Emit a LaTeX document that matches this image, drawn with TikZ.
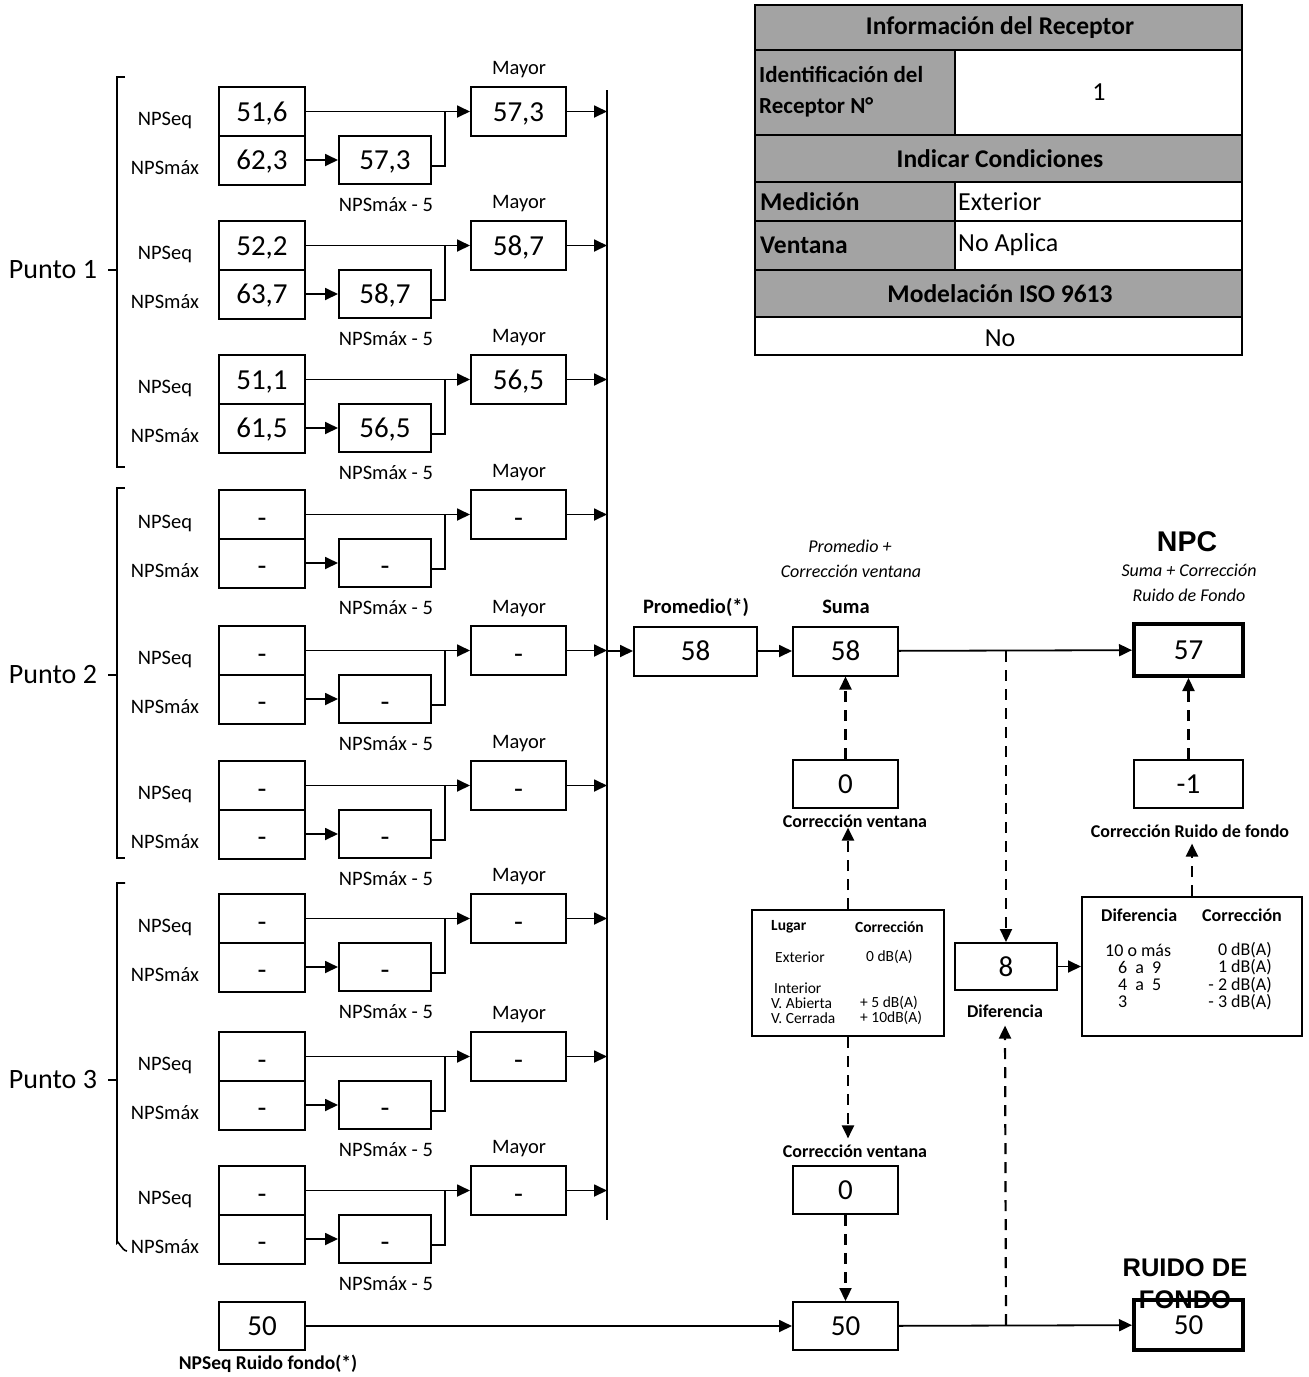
\documentclass[tikz,border=0pt]{standalone}
\usepackage{fontspec}
\setmainfont{Carlito}
\newfontfamily\arialf{Liberation Sans}
\usetikzlibrary{arrows.meta,calc}
\newcommand\myfs[1]{\fontsize{#1}{#1}\selectfont}
\newcommand\mydash{\raisebox{-3pt}{-}}
\begin{document}
\begin{tikzpicture}[x=1pt,y=-1pt,
 box/.style={draw,line width=2pt,inner sep=0pt,minimum width=86pt,minimum height=49pt,font=\myfs{29},text height=19pt,text depth=0pt},
 arr/.style={line width=1.8pt,-{Triangle[length=13pt,width=12pt]}},
 dsh/.style={line width=2.2pt,dash pattern=on 11pt off 8pt,-{Triangle[length=13pt,width=12pt]}},
 lbl/.style={font=\myfs{20.5},inner sep=0pt},
 bl/.style={font=\myfs{18}\bfseries,inner sep=0pt},
 it/.style={font=\myfs{18}\itshape,inner sep=0pt},
 sm/.style={font=\myfs{15.5},inner sep=0pt,anchor=west},
 smd/.style={font=\myfs{18},inner sep=0pt},
 tb/.style={font=\myfs{25.5}\bfseries,inner sep=0pt},
 tr/.style={font=\myfs{26},inner sep=0pt},
 brk/.style={line width=1.6pt}]
\useasboundingbox (0,0) rectangle (1309,1377);

% ---- measurement groups ----
\foreach \i/\t/\a/\b/\c in {1/87/{51,6}/{62,3}/{57,3},2/221/{52,2}/{63,7}/{58,7},3/355/{51,1}/{61,5}/{56,5},4/490/\mydash/\mydash/\mydash,5/626/\mydash/\mydash/\mydash,6/761/\mydash/\mydash/\mydash,7/894/\mydash/\mydash/\mydash,8/1032/\mydash/\mydash/\mydash,9/1166/\mydash/\mydash/\mydash}{
  \node[box] (eq\i) at (262,\t+24.5) {\a};
  \node[box] (mx\i) at (262,\t+73) {\b};
  \node[box,minimum width=92pt,minimum height=48pt] (md\i) at (385,\t+73) {\c};
  \node[box,minimum width=95pt] (my\i) at (518.5,\t+24.5) {\c};
  \node[lbl] (leq\i) at (165,\t+33) {NPSeq};
  \node[lbl] (lmx\i) at (165,\t+81) {NPSmáx};
  \node[lbl] (lmy\i) at (519,\t-17) {Mayor};
  \node[lbl] (lmd\i) at (386,\t+118) {NPSmáx - 5};
  \coordinate (j\i) at (445,\t+24.5);
  \coordinate (v\i) at (607,\t+24.5);
  \draw[arr] (eq\i) -- (my\i);
  \draw[arr] (mx\i) -- (md\i);
  \draw[line width=1.8pt] ([yshift=-6pt]md\i.east) -| (j\i);
  \draw[arr] (my\i) -- (v\i);
}
\coordinate (bt) at (607,90);
\coordinate (bb) at (607,1220);
\draw[line width=2pt] (bt) -- (bb);

% ---- brackets ----
\draw[brk] (125,77) -- (117,77) -- (117,467) -- (125,467);
\draw[brk] (117,270) -- (108,270);
\node[font=\myfs{28},inner sep=0pt] (p1) at (53,270) {Punto 1};
\draw[brk] (125,488) -- (117,488) -- (117,858) -- (125,858);
\draw[brk] (117,675) -- (108,675);
\node[font=\myfs{28},inner sep=0pt] (p2) at (53,675) {Punto 2};
\draw[brk] (125,883) -- (117,883) -- (117,1243) to[out=90,in=180] (127,1251);
\draw[brk] (117,1080) -- (108,1080);
\node[font=\myfs{28},inner sep=0pt] (p3) at (53,1080) {Punto 3};

% ---- receptor table ----
\fill[black!36] (755,5) rectangle (1242,50);
\fill[black!36] (755,50) rectangle (955,135);
\fill[black!36] (755,135) rectangle (1242,182);
\fill[black!36] (755,182) rectangle (955,270);
\fill[black!36] (755,270) rectangle (1242,317);
\draw[line width=2.6pt] (755,5) rectangle (1242,355);
\foreach \yy in {50,135,182,221,270,317}{\draw[line width=2.4pt] (755,\yy) -- (1242,\yy);}
\draw[line width=2.4pt] (955,50) -- (955,135);
\draw[line width=2.4pt] (955,182) -- (955,270);
\node[tb] (th1) at (1000,28) {Información del Receptor};
\node[font=\myfs{23}\bfseries,inner sep=0pt,anchor=west,align=left] (th2) at (759,92) {Identificación del\\[8pt]Receptor N°};
\node[tr] (tv1) at (1099,92) {1};
\node[tb] (th3) at (1000,159) {Indicar Condiciones};
\node[font=\myfs{25.5}\bfseries,inner sep=0pt,anchor=west] (th4) at (760,202) {Medición};
\node[tr,anchor=west] (tv4) at (958,202) {Exterior};
\node[font=\myfs{25.5}\bfseries,inner sep=0pt,anchor=west] (th5) at (760,245) {Ventana};
\node[tr,anchor=west] (tv5) at (958,245) {No Aplica};
\node[tb] (th6) at (1000,294) {Modelación ISO 9613};
\node[tr] (tv6) at (1000,338) {No};

% ---- central chain ----
\node[box,minimum width=123pt] (prom) at (695.5,651) {58};
\node[box,minimum width=105pt] (suma) at (845.5,651) {58};
\node[box,minimum width=109pt,minimum height=52pt,line width=4pt] (npc) at (1188.5,650) {57};
\node[font=\myfs{20.5}\bfseries,inner sep=0pt] (lprom) at (696,607) {Promedio(*)};
\node[font=\myfs{20.5}\bfseries,inner sep=0pt] (lsuma) at (846,607) {Suma};
\node[it] (ls1) at (850,546) {Promedio +};
\node[it] (ls2) at (851,571) {Corrección ventana};
\node[font=\myfs{28.5}\bfseries\arialf,inner sep=0pt] (lnpc) at (1187,542) {NPC};
\node[it] (ln1) at (1189,570) {Suma + Corrección};
\node[it] (ln2) at (1189,595) {Ruido de Fondo};
\coordinate (pv) at (607,651);
\draw[arr] (pv) -- (prom);
\draw[arr] (prom) -- (suma);
\draw[arr] (suma) -- (npc);
\coordinate (d1) at (1006,651);

\node[box,minimum width=105pt,minimum height=48pt] (cv1) at (845.5,784) {0};
\draw[dsh] (cv1) -- (suma);
\node[bl] (cvl1) at (855,821) {Corrección ventana};

\node[draw,line width=2pt,minimum width=192pt,minimum height=126pt,inner sep=0pt] (lug) at (848,973) {};
\node[sm,font=\myfs{15.5}\bfseries] (lu1) at (771,927) {Lugar};
\node[sm,font=\myfs{15.5}\bfseries] (lu2) at (855,927) {Corrección};
\node[sm] (lu3) at (775,957) {Exterior};
\node[sm] (lu4) at (866,957) {0 dB(A)};
\node[sm] (lu5) at (774,988) {Interior};
\node[sm] (lu6) at (771,1003) {V. Abierta};
\node[sm] (lu7) at (771,1018) {V. Cerrada};
\node[sm] (lu8) at (860,1003) {+ 5 dB(A)};
\node[sm] (lu9) at (860,1018) {+ 10dB(A)};
\draw[dsh] (lug.north) -- (lug.north |- cvl1.south);
\node[bl] (cvl2) at (855,1151) {Corrección ventana};
\draw[dsh] (lug.south) -- ($(lug.south |- cvl2.north)+(0,-6)$);

\node[box,minimum width=105pt,minimum height=48pt] (cv2) at (845.5,1190) {0};
\node[box,minimum width=105pt,minimum height=48pt] (rf) at (845.5,1326) {50};
\draw[dsh] (cv2) -- (rf);
\node[box,minimum height=48pt] (rf0) at (262,1326) {50};
\node[font=\myfs{19.5}\bfseries,inner sep=0pt] (lrf0) at (268,1364) {NPSeq Ruido fondo(*)};
\draw[arr] (rf0) -- (rf);
\node[box,line width=4pt,minimum width=109pt,minimum height=50pt] (rdf) at (1188.5,1325) {50};
\draw[arr] (rf) -- (rdf);
\node[font=\myfs{25.5}\bfseries\arialf,inner sep=0pt] (lrd1) at (1185,1268) {RUIDO DE};
\node[font=\myfs{25.5}\bfseries\arialf,inner sep=0pt] (lrd2) at (1185,1300) {FONDO};

% ---- diferencia ----
\node[box,minimum width=102pt,minimum height=47pt] (dif) at (1006,966.5) {8};
\draw[dsh] (d1) -- (dif.north);
\node[bl] (difl) at (1005,1011) {Diferencia};
\coordinate (d2) at (1006,1325);
\draw[dsh] (d2) -- ($(difl.south)+(0,8)$);

\node[draw,line width=2pt,minimum width=220pt,minimum height=139pt,inner sep=0pt] (dt) at (1192,966.5) {};
\draw[arr] (dif) -- (dt);
\node[smd,font=\myfs{18}\bfseries,anchor=west] (dt1) at (1101,915) {Diferencia};
\node[smd,font=\myfs{18}\bfseries,anchor=west] (dt2) at (1202,915) {Corrección};
\node[smd,anchor=west] (dt3) at (1105,950) {10 o más};
\node[smd,anchor=west] (dt4) at (1118,967) {6\ \ a\ \ 9};
\node[smd,anchor=west] (dt5) at (1118,985) {4\ \ a\ \ 5};
\node[smd,anchor=west] (dt6) at (1118,1002) {3};
\node[smd,anchor=east] (dt7) at (1272,950) {0 dB(A)};
\node[smd,anchor=east] (dt8) at (1272,967) {1 dB(A)};
\node[smd,anchor=east] (dt9) at (1272,985) {- 2 dB(A)};
\node[smd,anchor=east] (dt10) at (1272,1002) {- 3 dB(A)};
\node[bl] (crl) at (1190,831) {Corrección Ruido de fondo};
\draw[dsh] (dt.north) -- ($(dt.north |- crl.south)+(0,6)$);
\node[box,minimum width=109pt,minimum height=48pt] (m1) at (1188.5,784) {-1};
\draw[dsh] (m1) -- (npc);
\end{tikzpicture}
\end{document}
